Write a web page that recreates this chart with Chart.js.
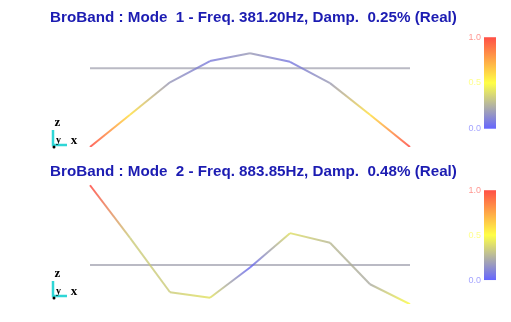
<!DOCTYPE html>
<html>
<head>
<meta charset="utf-8">
<script src="https://cdn.jsdelivr.net/npm/chart.js@4.4.0/dist/chart.umd.min.js"></script>
<style>
  html, body { margin: 0; padding: 0; background: #fff; }
  canvas { display: block; }
</style>
</head>
<body>
<canvas id="chart-modo1" width="511" height="157"></canvas>
<canvas id="chart-modo2" width="511" height="165"></canvas>
<script>
/* Datos de los modos */
var nodos = [0, 1, 2, 3, 4, 5, 6, 7, 8];
var modo1 = [-1.0, -0.59, -0.18, 0.09, 0.19, 0.08, -0.19, -0.59, -1.0];
var modo2 = [1.0, 0.34, -0.34, -0.41, -0.03, 0.40, 0.28, -0.24, -0.49];
var frecuencias = [381.20, 883.85];
var amortiguamientos = [0.25, 0.48];
var ticksEscala = [0.0, 0.5, 1.0];
var nivelBase = 0;

// azul -> amarillo -> rojo
function colorMapa(v, alpha) {
  var stops = [[85, 85, 255], [255, 255, 50], [255, 60, 50]];
  var t = Math.max(0, Math.min(1, v)) * 2;
  var i = Math.min(1, Math.floor(t));
  var f = t - i;
  var c = stops[i].map((a, k) => Math.round(a + (stops[i + 1][k] - a) * f));
  return 'rgba(' + c.join(',') + ',' + alpha + ')';
}

/* Barra de color + triedro */
var pluginEscala = {
  id: 'escalaColor',
  afterDraw: function(chart, args, opts) {
    var c = chart.ctx;
    var cb = chart.scales.cb;
    var y0 = cb.getPixelForValue(0);
    var y1 = cb.getPixelForValue(1);
    var g = c.createLinearGradient(0, y0, 0, y1);
    for (var k = 0; k <= 10; k++) g.addColorStop(k / 10, colorMapa(k / 10, 0.9));
    c.save();
    c.fillStyle = g;
    c.fillRect(484, y1, 12, y0 - y1);
    c.font = '9px Arial';
    c.textAlign = 'right';
    c.textBaseline = 'middle';
    ticksEscala.forEach(t => {
      c.fillStyle = colorMapa(t, 0.55);
      c.fillText(t.toFixed(1), 481, cb.getPixelForValue(t));
    });

    var ax = 53, ay = opts.triedroY;
    c.strokeStyle = '#2fd6d6';
    c.lineWidth = 2.5;
    c.beginPath();
    c.moveTo(ax, ay - 15);
    c.lineTo(ax, ay);
    c.lineTo(ax + 14, ay);
    c.stroke();
    c.fillStyle = '#000';
    c.textAlign = 'center';
    c.textBaseline = 'alphabetic';
    c.font = 'bold 13px "Liberation Serif"';
    c.fillText('z', ax + 4.5, ay - 19);
    c.fillText('x', ax + 21, ay - 1);
    c.font = 'bold 10px "Liberation Serif"';
    c.fillText('y', ax + 5.5, ay - 2);
    c.beginPath();
    c.arc(ax + 1, ay + 2, 1.5, 0, Math.PI * 2);
    c.fill();
    c.restore();
  }
};

function crearModo(id, n, forma, cfg) {
  var canvas = document.getElementById(id);
  var ctx = canvas.getContext('2d');
  var maxAbs = Math.max.apply(null, forma.map(v => Math.abs(v)));
  var nivel = forma.map(v => Math.abs(v) / maxAbs);

  new Chart(ctx, {
    type: 'line',
    data: {
      datasets: [{
        label: 'Deformada',
        data: nodos.map((x, i) => ({ x: x, y: forma[i] })),
        borderWidth: 2,
        pointRadius: 0,
        tension: 0,
        segment: {
          borderColor: function(s) {
            var gr = ctx.createLinearGradient(s.p0.x, s.p0.y, s.p1.x, s.p1.y);
            gr.addColorStop(0, colorMapa(nivel[s.p0DataIndex], 0.78));
            gr.addColorStop(1, colorMapa(nivel[s.p1DataIndex], 0.78));
            return gr;
          }
        }
      }, {
        label: 'Sin deformar',
        data: nodos.map(x => ({ x: x, y: nivelBase })),
        borderColor: '#babac4',
        borderWidth: 2,
        pointRadius: 0,
        tension: 0
      }]
    },
    options: {
      responsive: false,
      animation: false,
      events: [],
      layout: { padding: { top: 0, left: 0, right: 4, bottom: cfg.padAbajo } },
      plugins: {
        legend: { display: false },
        tooltip: { enabled: false },
        title: {
          display: true,
          text: 'BroBand : Mode  ' + n + ' - Freq. ' + frecuencias[n - 1].toFixed(2) +
                'Hz, Damp.  ' + amortiguamientos[n - 1].toFixed(2) + '% (Real)',
          color: '#1c1cb2',
          font: { family: 'Arial', size: 15.2, weight: 'bold' },
          padding: { top: cfg.tituloArriba, bottom: cfg.tituloAbajo }
        },
        escalaColor: { triedroY: cfg.triedroY }
      },
      scales: {
        x: { type: 'linear', display: false, min: -2.25, max: 10.425 },
        y: { display: false, min: cfg.yMin, max: cfg.yMax },
        cb: { position: 'right', display: false, min: cfg.cbMin, max: cfg.cbMax }
      }
    },
    plugins: [pluginEscala]
  });
}

crearModo('chart-modo1', 1, modo1, {
  padAbajo: 10, tituloArriba: 9, tituloAbajo: 10,
  yMin: -1.0, yMax: 0.392, cbMin: -0.2, cbMax: 1.0, triedroY: 145
});

crearModo('chart-modo2', 2, modo2, {
  padAbajo: 18, tituloArriba: 6, tituloAbajo: 2,
  yMin: -0.4875, yMax: 1.025, cbMin: -0.2667, cbMax: 1.0778, triedroY: 139
});
</script>
</body>
</html>
